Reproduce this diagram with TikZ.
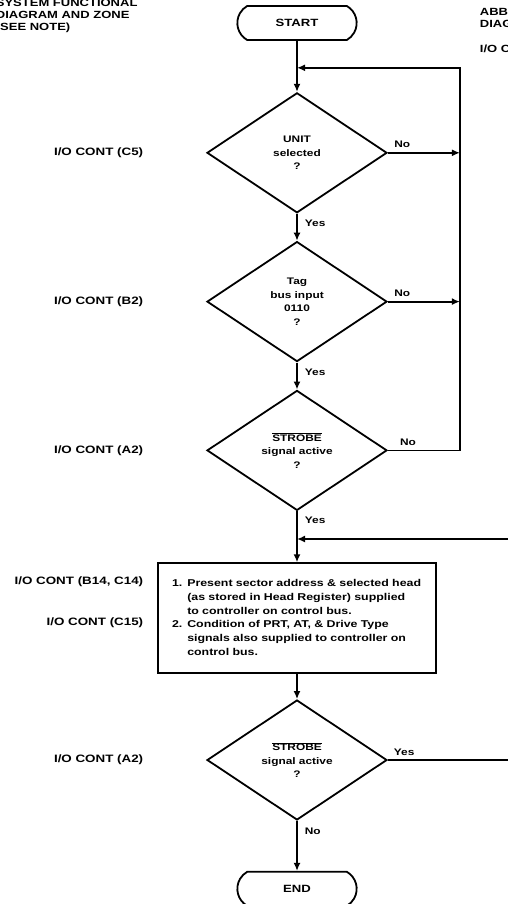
\documentclass[tikz,border=0pt]{standalone}
\usepackage{fontspec}
\setmainfont{Liberation Sans}[FakeStretch=1.25]
\usetikzlibrary{shapes.geometric,shapes.misc,arrows.meta,positioning,calc}

\begin{document}
\begin{tikzpicture}[
    x=1pt, y=1pt,
    line width=1.8pt,
    term/.style={draw, rounded rectangle, rounded rectangle arc length=120, minimum width=126pt, minimum height=34pt, font=\bfseries\fontsize{10.5}{12}\selectfont},
    decision/.style={draw, diamond, minimum width=180pt, minimum height=120pt, inner sep=0pt, align=center, font=\bfseries\fontsize{9.5}{13.5}\selectfont},
    process/.style={draw, rectangle, text width=250pt, inner xsep=14pt, minimum height=110pt, align=left, font=\bfseries\fontsize{9.9}{13.7}\selectfont},
    lbl/.style={font=\bfseries\fontsize{10.7}{12}\selectfont, inner sep=0pt},
    hdr/.style={font=\bfseries\fontsize{10.4}{12}\selectfont, inner sep=0pt, align=left},
    yn/.style={font=\bfseries\fontsize{9.5}{11}\selectfont, inner sep=1pt},
    arrow/.style={->, >={Latex[length=8pt,width=7pt]}},
    node distance=27pt
]
    \useasboundingbox (0,0) rectangle (508,-904);

    % column headers
    \node[hdr, anchor=north west] (sysfd) at (-5,2) {SYSTEM FUNCTIONAL\\DIAGRAM AND ZONE\\(SEE NOTE)};
    \node[hdr, anchor=north west] (abbr) at (479,-7) {ABBREVIATED\\DIAGRAM};
    \node[hdr, anchor=north west] (abbrio) at (479,-44) {I/O CONT};

    % flow
    \node[term] (start) at (297,-23) {START};
    \node[decision, below=51pt of start] (unit) {UNIT\\selected\\?};
    \node[decision, below=of unit] (tag) {Tag\\bus input\\0110\\?};
    \node[decision, below=of tag] (strobe) {$\overline{\hbox{STROBE}}$\\signal active\\?};
    \node[process, below=51pt of strobe] (present) {%
        \begin{tabular}{@{}l@{ }l@{}}
        1. & Present sector address \& selected head\\
           & (as stored in Head Register) supplied\\
           & to controller on control bus.\\
        2. & Condition of PRT, AT, \& Drive Type\\
           & signals also supplied to controller on\\
           & control bus.
        \end{tabular}};
    \node[decision, below=25pt of present] (strobeb) {$\overline{\hbox{STROBE}}$\\signal active\\?};
    \node[term, below=50pt of strobeb] (end) {END};

    % zone labels
    \node[lbl, anchor=east, left=62pt of unit] (zc5) {I/O CONT (C5)};
    \node[lbl, anchor=east, left=62pt of tag] (zb2) {I/O CONT (B2)};
    \node[lbl, anchor=east, left=62pt of strobe] (za2) {I/O CONT (A2)};
    \node[lbl, anchor=east] (zb14) at ($(present.north west)+(-13,-19)$) {I/O CONT (B14, C14)};
    \node[lbl, anchor=east] (zc15) at ($(present.north west)+(-13,-60)$) {I/O CONT (C15)};
    \node[lbl, anchor=east, left=62pt of strobeb] (za2b) {I/O CONT (A2)};

    % return points
    \coordinate (rt) at ($(unit.east)+(72,85)$);
    \coordinate (j1) at (start.south |- rt);
    \coordinate (rb) at ($(strobeb.east)+(125,221)$);
    \coordinate (j2) at (strobe.south |- rb);

    \draw[arrow] (start) -- (unit);
    \draw[arrow] (unit) -- node[yn, right=6pt, pos=0.36] {Yes} (tag);
    \draw[arrow] (tag) -- node[yn, right=6pt, pos=0.36] {Yes} (strobe);
    \draw[arrow] (strobe) -- node[yn, right=6pt, pos=0.17] {Yes} (present);
    \draw[arrow] (present) -- (strobeb);
    \draw[arrow] (strobeb) -- node[yn, right=6pt, pos=0.2] {No} (end);

    \draw[arrow] (unit.east) -- node[yn, above=3pt, pos=0.2] {No} (unit.east -| rt);
    \draw[arrow] (tag.east) -- node[yn, above=3pt, pos=0.2] {No} (tag.east -| rt);
    \draw[arrow] (strobe.east) -- node[yn, above=3pt, pos=0.28] {No} (strobe.east -| rt) -- (rt) -- (j1);
    \draw[arrow] (strobeb.east) -- node[yn, above=3pt, pos=0.13] {Yes} (strobeb.east -| rb) -- (rb) -- (j2);
\end{tikzpicture}
\end{document}
